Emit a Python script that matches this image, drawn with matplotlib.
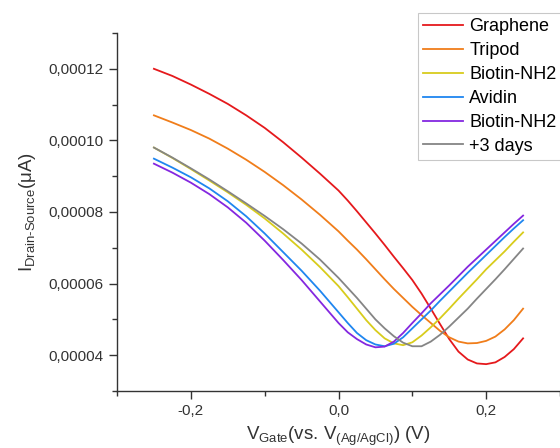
import matplotlib
matplotlib.use("Agg")
import matplotlib.pyplot as plt
from matplotlib.ticker import MultipleLocator, FuncFormatter

plt.rcParams['font.family'] = ['Liberation Sans', 'DejaVu Sans']
plt.rcParams['mathtext.fontset'] = 'custom'
plt.rcParams['mathtext.rm'] = 'Liberation Sans'
plt.rcParams['mathtext.it'] = 'Liberation Sans'

v_gate = [-0.25, -0.225, -0.2, -0.175, -0.15, -0.125, -0.1, -0.075, -0.05, -0.025,
          0.0, 0.0125, 0.025, 0.0375, 0.05, 0.0625, 0.075, 0.0875, 0.1, 0.1125,
          0.125, 0.1375, 0.15, 0.1625, 0.175, 0.1875, 0.2, 0.2125, 0.225, 0.2375, 0.25]

# currents in units of 1e-5
graphene = [12.0, 11.8, 11.56, 11.3, 11.02, 10.7, 10.35, 9.95, 9.52, 9.07,
            8.6, 8.32, 8.02, 7.71, 7.4, 7.08, 6.75, 6.43, 6.1, 5.72,
            5.3, 4.87, 4.45, 4.1, 3.88, 3.77, 3.75, 3.8, 3.95, 4.17, 4.47]
tripod = [10.7, 10.5, 10.29, 10.05, 9.77, 9.46, 9.12, 8.75, 8.35, 7.92,
          7.46, 7.2, 6.95, 6.68, 6.4, 6.12, 5.85, 5.6, 5.35, 5.12,
          4.9, 4.68, 4.5, 4.38, 4.33, 4.34, 4.4, 4.52, 4.72, 4.98, 5.3]
biotin1 = [9.8, 9.51, 9.2, 8.88, 8.55, 8.2, 7.82, 7.4, 6.95, 6.46,
           5.93, 5.62, 5.3, 4.98, 4.7, 4.47, 4.33, 4.28, 4.36, 4.55,
           4.78, 5.03, 5.3, 5.58, 5.85, 6.12, 6.4, 6.65, 6.9, 7.17, 7.43]
avidin = [9.49, 9.24, 8.97, 8.66, 8.3, 7.88, 7.4, 6.88, 6.36, 5.8,
          5.2, 4.9, 4.62, 4.42, 4.3, 4.25, 4.32, 4.5, 4.75, 5.0,
          5.25, 5.52, 5.78, 6.04, 6.3, 6.55, 6.8, 7.05, 7.3, 7.54, 7.77]
biotin2 = [9.35, 9.1, 8.82, 8.5, 8.13, 7.7, 7.2, 6.66, 6.1, 5.5,
           4.9, 4.64, 4.45, 4.3, 4.22, 4.24, 4.38, 4.62, 4.9, 5.17,
           5.45, 5.7, 5.95, 6.21, 6.47, 6.71, 6.95, 7.19, 7.43, 7.67, 7.9]
days3 = [9.8, 9.52, 9.22, 8.91, 8.58, 8.24, 7.89, 7.52, 7.12, 6.67,
         6.16, 5.88, 5.6, 5.3, 5.0, 4.75, 4.53, 4.35, 4.25, 4.25,
         4.38, 4.57, 4.8, 5.05, 5.3, 5.58, 5.85, 6.12, 6.4, 6.69, 6.98]

labels = ["Graphene", "Tripod", "Biotin-NH2", "Avidin", "Biotin-NH2", "+3 days"]
series = [graphene, tripod, biotin1, avidin, biotin2, days3]
colors = ["#e5191c", "#f07d1a", "#d8cc1c", "#1f86f0", "#8427e0", "#858585"]

fig = plt.figure(figsize=(5.6, 4.48), dpi=100)
ax = fig.add_axes([117/560, 1-391/448, 1-117/560, (391-33)/448])

handles = []
for lab, ys, c in zip(labels, series, colors):
    h, = ax.plot(v_gate, [y*1e-5 for y in ys], color=c, lw=1.3, label=lab)
    handles.append(h)

ax.set_xlim(-0.3, 0.3)
ax.set_ylim(0.00003, 0.00013)
ax.xaxis.set_major_locator(MultipleLocator(0.2))
ax.xaxis.set_minor_locator(MultipleLocator(0.1))
ax.yaxis.set_major_locator(MultipleLocator(0.00002))
ax.yaxis.set_minor_locator(MultipleLocator(0.00001))
ax.xaxis.set_major_formatter(FuncFormatter(lambda v, p: f"{v:.1f}".replace('.', ',').replace('-0,0', '0,0')))
ax.yaxis.set_major_formatter(FuncFormatter(lambda v, p: f"{v:.5f}".replace('.', ',')))

for s in ['top', 'right']:
    ax.spines[s].set_visible(False)
for s in ['left', 'bottom']:
    ax.spines[s].set_color('#333333')
    ax.spines[s].set_linewidth(1.0)
ax.tick_params(which='major', direction='out', length=6, width=1, color='#333333',
               labelsize=11, labelcolor='#333333')
ax.tick_params(which='minor', direction='out', length=3.5, width=1, color='#333333')

ax.set_xlabel(r'V$_{\mathrm{Gate}}$(vs. V$_{\mathrm{(Ag/AgCl)}}$) (V)', fontsize=13.5, color='#333333', labelpad=5)
ax.set_ylabel(r'I$_{\mathrm{Drain\text{-}Source}}$(μA)', fontsize=13.5, color='#333333', labelpad=8)

leg = fig.legend(handles=handles, labels=labels, loc='upper left',
                 bbox_to_anchor=(418/560, 1-13/448), borderaxespad=0,
                 fontsize=13, frameon=True, fancybox=False, handlelength=2.2,
                 handletextpad=0.35, labelspacing=0.38, borderpad=0.3)
leg.get_frame().set_edgecolor('#bbbbbb')
leg.get_frame().set_linewidth(0.8)

fig.savefig('out.png', dpi=100)
